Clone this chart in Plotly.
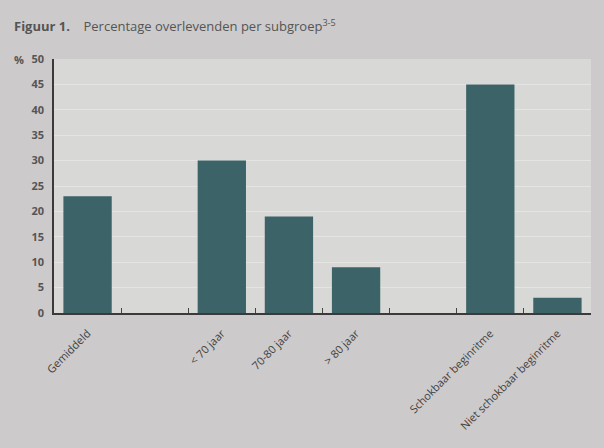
import plotly.graph_objects as go

categories = ["Gemiddeld", " ", "< 70 jaar", "70-80 jaar", "> 80 jaar", "  ",
              "Schokbaar beginritme", "Niet schokbaar beginritme"]
values = [23, None, 30, 19, 9, None, 45, 3]
y_ticks = [0, 5, 10, 15, 20, 25, 30, 35, 40, 45, 50]

W, H = 604, 448
L, R, T, B = 54, 13, 59, 135
PW, PH = W - L - R, H - T - B

fig = go.Figure()
fig.add_trace(go.Bar(
    x=categories, y=values,
    marker=dict(color="#3c6468", line=dict(width=0)),
    width=0.72,
))

fig.update_layout(
    width=W, height=H,
    margin=dict(l=L, r=R, t=T, b=B),
    paper_bgcolor="#cdcacb",
    plot_bgcolor="#d8d8d6",
    showlegend=False,
    font=dict(family="Open Sans, Liberation Sans, sans-serif", color="#4a4a4a"),
    xaxis=dict(
        type="category",
        tickson="boundaries",
        ticks="inside", ticklen=5, tickcolor="#444", tickwidth=1,
        tickangle=-45,
        tickfont=dict(size=11, color="#3f3f3f"),
        ticklabelstandoff=8,
        showline=True, linecolor="#3a3a3a", linewidth=1.5,
        showgrid=False,
        range=[-0.5, 7.5],
    ),
    yaxis=dict(
        range=[0, 50],
        tickvals=y_ticks,
        ticktext=[f"<b>{v}</b>" for v in y_ticks],
        tickfont=dict(size=11, color="#555"),
        showline=True, linecolor="#3a3a3a", linewidth=1.5,
        showgrid=True, gridcolor="#e4e4e2", gridwidth=1,
        zeroline=False,
        ticks="", ticklabelstandoff=6,
    ),
    annotations=[
        dict(x=(12 - L) / PW, y=1 + (T - 25) / PH, xref="paper", yref="paper",
             xanchor="left", yanchor="middle",
             text="<b>Figuur 1.</b>    Percentage overlevenden per subgroep<sup>3-5</sup>",
             showarrow=False, font=dict(size=13, color="#555")),
        dict(x=(12 - L) / PW, y=1, xref="paper", yref="paper", xanchor="left", yanchor="middle",
             text="<b>%</b>", showarrow=False,
             font=dict(size=11, color="#555")),
    ],
)
fig.write_html("out.html")
